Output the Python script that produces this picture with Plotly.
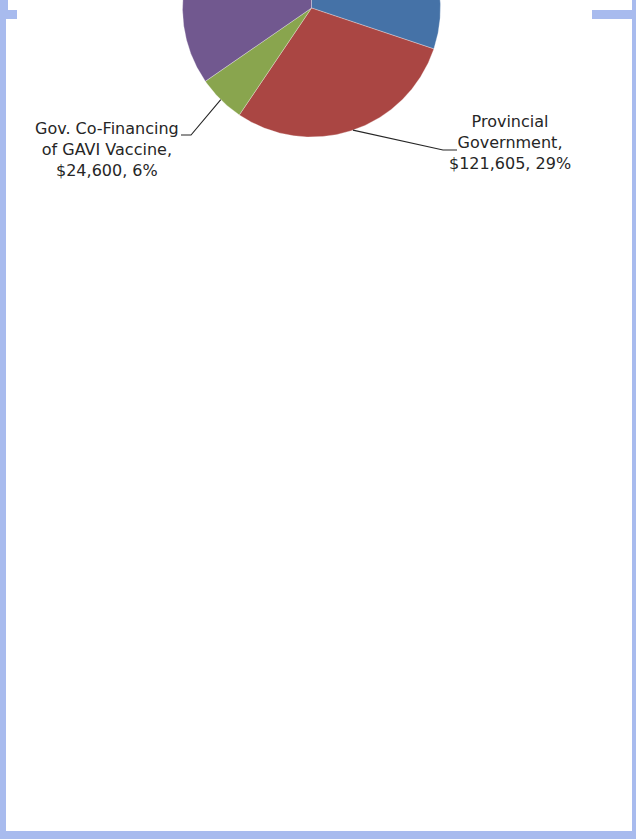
import math
import plotly.graph_objects as go

# ---- data ----
sources = ["Federal Government (EPI)", "Provincial Government",
           "Gov. Co-Financing of GAVI Vaccine", "Development Partners"]
amounts = [125000, 121605, 24600, 143600]
label_names = [None, "Provincial<br>Government", "Gov. Co-Financing<br>of GAVI Vaccine", None]
colors = ["#4572A7", "#AA4643", "#89A54E", "#71588F"]

# ---- layout constants (pixel space) ----
W, H = 636, 839
CX, CY, R = 311.5, 8.0, 129.0
FRAME = "#A8BBEE"
FONT = "DejaVu Sans"

total = sum(amounts)
fig = go.Figure()

start = 0.0
mids = []
for name, val, col in zip(sources, amounts, colors):
    span = 360.0 * val / total
    n = max(8, int(span * 2))
    xs, ys = [CX], [CY]
    for i in range(n + 1):
        a = math.radians(start + span * i / n)
        xs.append(CX + R * math.sin(a))
        ys.append(CY - R * math.cos(a))
    xs.append(CX); ys.append(CY)
    fig.add_trace(go.Scatter(x=xs, y=ys, mode="lines", fill="toself",
                             fillcolor=col, line=dict(color="rgba(255,255,255,0.5)", width=0.6),
                             name=name, hoverinfo="name", showlegend=False))
    mids.append(start + span / 2)
    start += span

def edge(idx):
    a = math.radians(mids[idx])
    return CX + R * math.sin(a), CY - R * math.cos(a)

# leader lines
label_pos = {1: (509.5, 142.5), 2: (107.0, 149.0)}
bends = {1: [(443, 150), (457, 150)], 2: [(191, 135), (181, 135)]}
for idx in (1, 2):
    ex, ey = edge(idx)
    pts = [(ex, ey)] + bends[idx]
    fig.add_trace(go.Scatter(x=[p[0] for p in pts], y=[p[1] for p in pts], mode="lines",
                             line=dict(color="#262626", width=1.1), hoverinfo="skip",
                             showlegend=False))
    pct = round(100 * amounts[idx] / total)
    txt = f"{label_names[idx]},<br>${amounts[idx]:,}, {pct}%"
    lx, ly = label_pos[idx]
    fig.add_annotation(x=lx, y=ly, text=txt, showarrow=False, xanchor="center",
                       yanchor="middle", align="center",
                       font=dict(family=FONT, size=16, color="#262626"))

# frame
rects = [(0, 0, 6, H), (0, 0, 8, 10), (0, 10, 17, 19), (592, 10, W, 19),
         (632, 0, W, H), (0, 831, W, H)]
for x0, y0, x1, y1 in rects:
    fig.add_shape(type="rect", x0=x0, y0=y0, x1=x1, y1=y1, xref="x", yref="y",
                  fillcolor=FRAME, line=dict(width=0), layer="above")

fig.update_layout(
    width=W, height=H, margin=dict(l=0, r=0, t=0, b=0),
    paper_bgcolor="white", plot_bgcolor="white",
    xaxis=dict(range=[0, W], visible=False, fixedrange=True),
    yaxis=dict(range=[H, 0], visible=False, fixedrange=True),
)
fig.write_html("out.html", config={"displayModeBar": False},
               post_script="document.body.style.margin='0';document.body.style.overflow='hidden';")
